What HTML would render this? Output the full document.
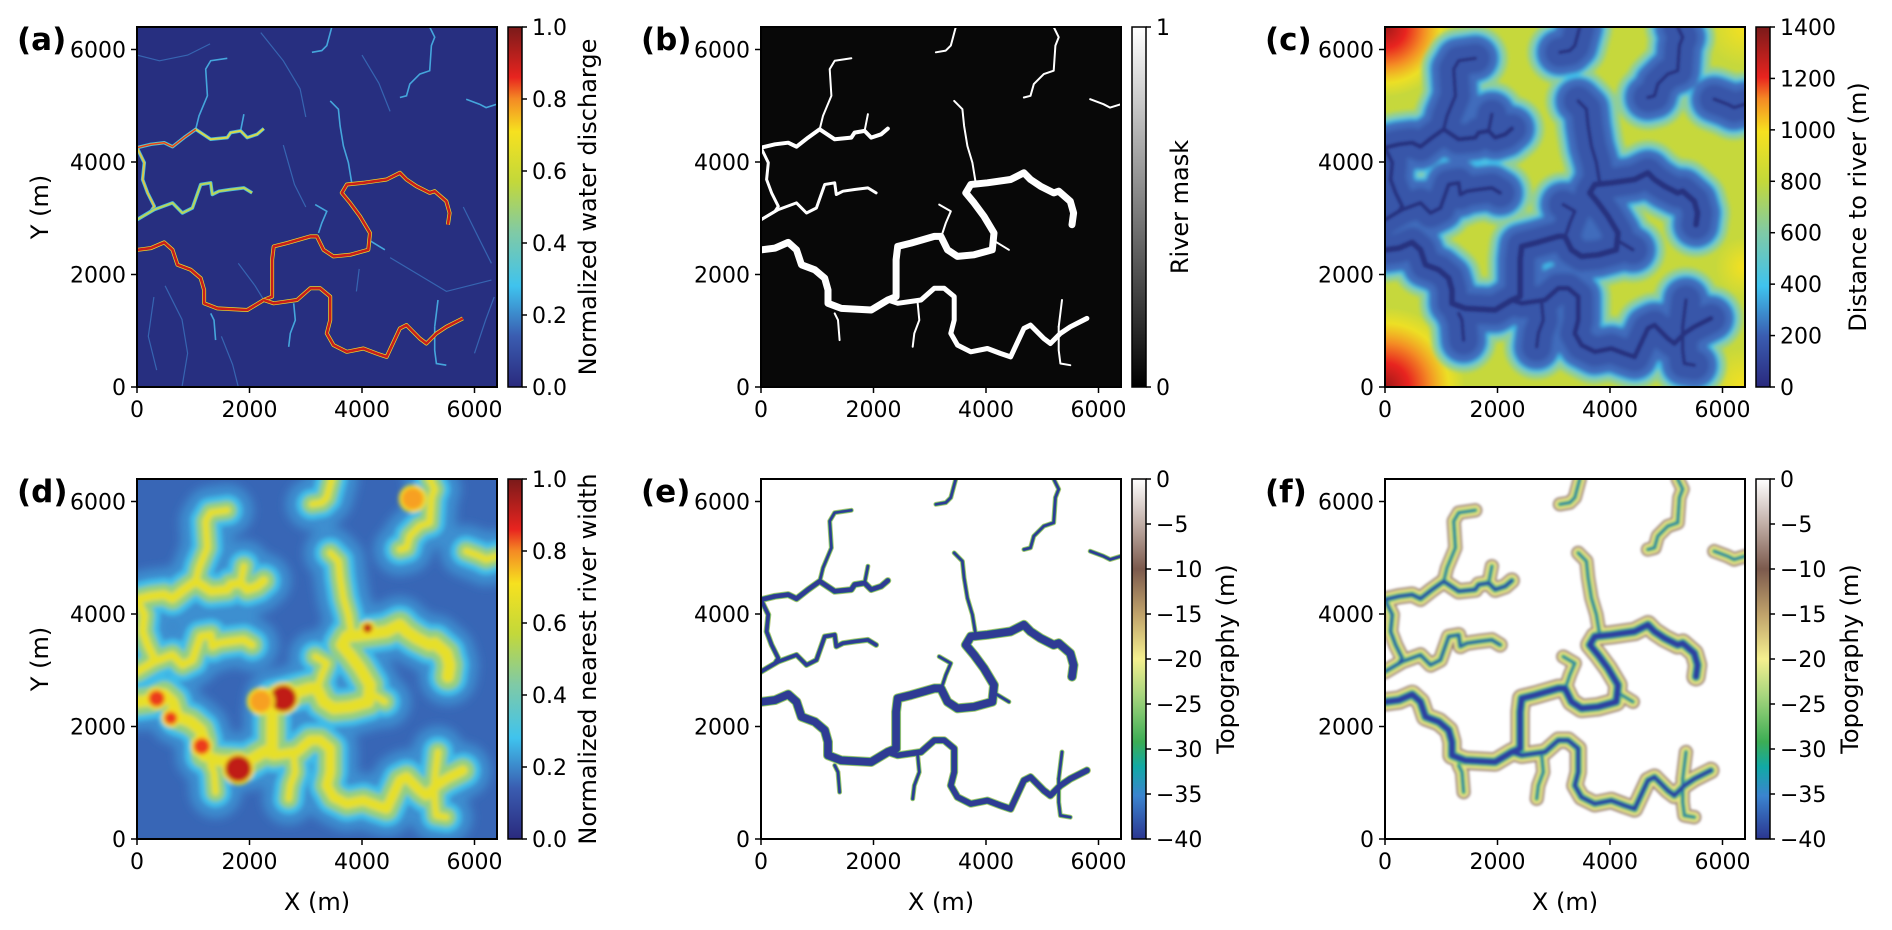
<!DOCTYPE html>
<html><head><meta charset="utf-8">
<style>
html,body{margin:0;padding:0;background:#fff;}
svg{display:block;}
text{font-family:"DejaVu Sans","Liberation Sans",sans-serif;fill:#000;}
</style></head>
<body>
<svg id="fig" xmlns="http://www.w3.org/2000/svg" width="1892" height="930" viewBox="0 0 1892 930">
<defs>
<linearGradient id="cmJet" x1="0" y1="1" x2="0" y2="0">
<stop offset="0" stop-color="#2a2a7e"/><stop offset="0.14" stop-color="#3a5cb0"/><stop offset="0.28" stop-color="#3fc3ee"/><stop offset="0.43" stop-color="#80caa5"/><stop offset="0.57" stop-color="#c3d83a"/><stop offset="0.71" stop-color="#f6e11f"/><stop offset="0.8" stop-color="#f48a24"/><stop offset="0.86" stop-color="#e8241f"/><stop offset="1" stop-color="#7a1a1a"/>
</linearGradient>
<linearGradient id="cmGray" x1="0" y1="1" x2="0" y2="0"><stop offset="0" stop-color="#000"/><stop offset="1" stop-color="#fff"/></linearGradient>
<linearGradient id="cmTopo" x1="0" y1="1" x2="0" y2="0">
<stop offset="0" stop-color="#2b3690"/><stop offset="0.12" stop-color="#3b84cf"/><stop offset="0.2" stop-color="#12a9a6"/><stop offset="0.27" stop-color="#3cad55"/><stop offset="0.4" stop-color="#a8d67e"/><stop offset="0.5" stop-color="#f4ef8f"/><stop offset="0.62" stop-color="#c2a56c"/><stop offset="0.75" stop-color="#7c5a4d"/><stop offset="0.88" stop-color="#c4b2ab"/><stop offset="1" stop-color="#ffffff"/>
</linearGradient>
<filter id="blur2" x="-20%" y="-20%" width="140%" height="140%"><feGaussianBlur stdDeviation="2"/></filter>
<filter id="blur1" x="-20%" y="-20%" width="140%" height="140%"><feGaussianBlur stdDeviation="1.2"/></filter>
<filter id="blur5" x="-20%" y="-20%" width="140%" height="140%"><feGaussianBlur stdDeviation="5"/></filter>
<radialGradient id="cornerRed"><stop offset="0" stop-color="#a01818"/><stop offset="0.3" stop-color="#e8241f"/><stop offset="0.55" stop-color="#f48a24"/><stop offset="0.8" stop-color="#f6e11f" stop-opacity="0.8"/><stop offset="1" stop-color="#f6e11f" stop-opacity="0"/></radialGradient>
<radialGradient id="cornerYel"><stop offset="0" stop-color="#f6e11f"/><stop offset="1" stop-color="#f6e11f" stop-opacity="0"/></radialGradient>
</defs>
</svg>
<script>
// ---------- data ----------
const axisMax = 6400;
const xyTicks = [0, 2000, 4000, 6000];
const ticksUnit = [0.0, 0.2, 0.4, 0.6, 0.8, 1.0];
const ticksMask = [0, 1];
const ticksDist = [0, 200, 400, 600, 800, 1000, 1200, 1400];
const ticksTopo = [0, -5, -10, -15, -20, -25, -30, -35, -40];

const riverMain = [[12,2440],[248,2469],[484,2570],[631,2440],[720,2172],[956,2083],[1133,1934],[1192,1726],[1192,1488],[1428,1398],[1959,1369],[2254,1547],[2401,1607],[2401,2261],[2431,2499],[2667,2559],[3080,2678],[3198,2678],[3316,2440],[3493,2321],[3788,2350],[4112,2440],[4142,2737],[3965,3035],[3788,3273],[3640,3451],[3729,3600],[4024,3630],[4437,3689],[4673,3808],[4791,3689],[4968,3570],[5204,3451],[5292,3481],[5499,3302],[5558,3094],[5528,2886]];
const riverSouth = [[2254,1547],[2431,1488],[2844,1547],[3080,1755],[3257,1755],[3434,1607],[3434,1190],[3375,952],[3493,744],[3729,625],[4024,684],[4260,595],[4437,536],[4673,1041],[4791,1101],[5027,863],[5145,774],[5322,952],[5499,1071],[5794,1220]];
const riverNorth = [[0,4254],[248,4314],[484,4344],[631,4272],[838,4433],[1044,4582],[1310,4403],[1605,4433],[1664,4522],[1841,4552],[1959,4433],[2136,4492],[2254,4593]];
const riverWest = [[0,4254],[130,3987],[100,3689],[189,3451],[307,3213],[248,3124],[0,2975]];
const riverMid = [[0,2975],[307,3154],[631,3273],[808,3094],[985,3183],[1133,3600],[1310,3630],[1339,3422],[1457,3481],[1664,3511],[1900,3540],[2047,3451]];
const tribs = [
 [[1044,4582],[1103,4820],[1251,5177],[1221,5652],[1310,5801],[1605,5843]],
 [[1841,4552],[1900,4850]],
 [[3463,6400],[3375,6069],[3286,5980],[3109,5950]],
 [[5204,6400],[5292,6218],[5233,6069],[5204,5623],[5027,5563],[4850,5385],[4791,5177],[4673,5147]],
 [[5853,5117],[6089,5028],[6207,4968],[6400,5028]],
 [[3434,5087],[3581,4939],[3611,4641],[3670,4284],[3758,3987],[3817,3630]],
 [[3168,3243],[3375,3124],[3286,2915],[3227,2737]],
 [[1310,1309],[1369,1190],[1398,833]],
 [[2785,1488],[2815,1190],[2726,952],[2697,714]],
 [[5292,1071],[5292,655],[5322,417],[5499,387]],
 [[5292,1071],[5351,1547]],
 [[4112,2618],[4407,2440]]
];
const minorStreams = [
 [[0,5900],[400,5800],[900,5900],[1300,6100]],
 [[2200,6300],[2600,5800],[2900,5300],[3000,4800]],
 [[2600,4300],[2800,3600],[3000,3200]],
 [[500,1800],[800,1200],[900,600],[800,0]],
 [[1800,2200],[2100,1800],[2254,1547]],
 [[4500,2300],[5000,2000],[5500,1700],[6300,1900]],
 [[5800,3200],[6100,2600],[6300,2200]],
 [[1500,900],[1700,400],[1800,0]],
 [[4000,5900],[4300,5400],[4500,4900]],
 [[300,1600],[200,900],[350,300]],
 [[3900,1700],[3950,2100]],
 [[6000,600],[6200,1200],[6350,1600]]
];
const widthHotX = [2600, 1800, 1150, 350, 4100, 4900, 600, 2200];
const widthHotY = [2500, 1250, 1650, 2500, 3750, 6050, 2150, 2450];
const widthHotR = [260, 260, 170, 170, 110, 220, 140, 220];
const widthHotV = [1.0, 1.0, 0.9, 0.9, 0.95, 0.7, 0.85, 0.8];

// ---------- layout ----------
const NS = "http://www.w3.org/2000/svg";
const svg = document.getElementById('fig');
const SIZE = 360;
const colsX = [137, 761, 1385];
const rowsY = [27, 479];
const TF = 22, LF = 24;

function mk(tag, attrs, parent) {
  const e = document.createElementNS(NS, tag);
  for (const k in attrs) e.setAttribute(k, attrs[k]);
  (parent || svg).appendChild(e);
  return e;
}
function scaleX(L, v) { return L + v / axisMax * SIZE; }
function scaleY(T, v) { return T + SIZE - v / axisMax * SIZE; }
function pathD(L, T, pts) {
  return pts.map((p, i) => (i ? 'L' : 'M') + scaleX(L, p[0]).toFixed(1) + ',' + scaleY(T, p[1]).toFixed(1)).join(' ');
}
const network = [
  {pts: riverMain, w: 7},
  {pts: riverSouth, w: 5},
  {pts: riverNorth, w: 4},
  {pts: riverWest, w: 3},
  {pts: riverMid, w: 3}
].concat(tribs.map(t => ({pts: t, w: 2})));

function strokeNet(g, L, T, extra, color, opts) {
  opts = opts || {};
  network.forEach(r => {
    const p = mk('path', {d: pathD(L, T, r.pts), fill: 'none', stroke: color, 'stroke-width': Math.max(0.5, (opts.scale !== undefined ? r.w * opts.scale : r.w) + extra), 'stroke-linecap': 'round', 'stroke-linejoin': 'round'}, g);
    
    
  });
}

function panel(idx, L, T, label, painter, opts) {
  const g = mk('g', {});
  
  
  const cp = mk('clipPath', {id: 'clip' + idx}, g);
  mk('rect', {x: L, y: T, width: SIZE, height: SIZE}, cp);
  const img = mk('g', {'clip-path': 'url(#clip' + idx + ')'}, g);
  
  
  painter(img, L, T);
  const frame = mk('rect', {x: L, y: T, width: SIZE, height: SIZE, fill: 'none', stroke: '#000', 'stroke-width': 2}, g);
  
  
  xyTicks.forEach(v => {
    const x = scaleX(L, v), y = scaleY(T, v);
    mk('line', {x1: x, y1: T + SIZE, x2: x, y2: T + SIZE + 6, stroke: '#000', 'stroke-width': 1.5}, g);
    const tx = mk('text', {x: x, y: T + SIZE + 30, 'font-size': TF, 'text-anchor': 'middle'}, g);
    tx.textContent = v;
    
    
    mk('line', {x1: L, y1: y, x2: L - 6, y2: y, stroke: '#000', 'stroke-width': 1.5}, g);
    const ty = mk('text', {x: L - 11, y: y + 8, 'font-size': TF, 'text-anchor': 'end'}, g);
    ty.textContent = v;
    
    
  });
  const pl = mk('text', {x: L - 120, y: T + 23, 'font-size': 31, 'font-weight': 'bold', 'font-family': 'Liberation Sans, sans-serif'}, g);
  pl.textContent = '(' + label + ')';
  
  
  if (opts.ylabel) {
    const yl = mk('text', {x: 0, y: 0, 'font-size': LF, 'text-anchor': 'middle', transform: 'translate(48,' + (T + SIZE / 2) + ') rotate(-90)'}, g);
    yl.textContent = 'Y (m)';
    
    
  }
  if (opts.xlabel) {
    const xl = mk('text', {x: L + SIZE / 2, y: T + SIZE + 71, 'font-size': LF, 'text-anchor': 'middle'}, g);
    xl.textContent = 'X (m)';
    
    
  }
  const cx = L + SIZE + 11, cw = 14;
  const cb = mk('rect', {x: cx, y: T, width: cw, height: SIZE, fill: 'url(#' + opts.cmap + ')', stroke: '#000', 'stroke-width': 1.5}, g);
  
  
  const ticks = opts.cticks, lo = opts.cmin, hi = opts.cmax;
  ticks.forEach(v => {
    const y = T + SIZE - (v - lo) / (hi - lo) * SIZE;
    mk('line', {x1: cx + cw, y1: y, x2: cx + cw + 5, y2: y, stroke: '#000', 'stroke-width': 1.5}, g);
    const t = mk('text', {x: cx + cw + 10, y: y + 8, 'font-size': TF}, g);
    t.textContent = opts.fmt(v);
    
    
  });
  const cl = mk('text', {x: 0, y: 0, 'font-size': LF, 'text-anchor': 'middle', transform: 'translate(' + (cx + cw + opts.clOff) + ',' + (T + SIZE / 2) + ') rotate(-90)'}, g);
  cl.textContent = opts.clabel;
  
  
}

const f1 = v => v.toFixed(1);
const fi = v => String(v);
const fm = v => (v < 0 ? '\u2212' + Math.abs(v) : String(v));

// (a)
panel(0, colsX[0], rowsY[0], 'a', (g, L, T) => {
  mk('rect', {x: L, y: T, width: SIZE, height: SIZE, fill: '#272f80'}, g);
  minorStreams.forEach(s => {
    const p = mk('path', {d: pathD(L, T, s), fill: 'none', stroke: '#3d7cc6', 'stroke-width': 1.2, opacity: 0.7}, g);
    
    
  });
  tribs.forEach(t => {
    const p = mk('path', {d: pathD(L, T, t), fill: 'none', stroke: '#45a6dc', 'stroke-width': 1.6}, g);
    
    
  });
  [[riverNorth, '#d8d84a'], [riverWest, '#d8c84a'], [riverMid, '#b9d65a']].forEach(r => {
    mk('path', {d: pathD(L, T, r[0]), fill: 'none', stroke: '#45b8e0', 'stroke-width': 3.5, 'stroke-linejoin': 'round'}, g);
    mk('path', {d: pathD(L, T, r[0]), fill: 'none', stroke: r[1], 'stroke-width': 2, 'stroke-linejoin': 'round'}, g);
  });
  mk('path', {d: pathD(L, T, riverNorth.slice(0, 6)), fill: 'none', stroke: '#e03a22', 'stroke-width': 1.4}, g);
  [riverMain, riverSouth].forEach(r => {
    mk('path', {d: pathD(L, T, r), fill: 'none', stroke: '#e8d830', 'stroke-width': 4, 'stroke-linejoin': 'round'}, g);
    mk('path', {d: pathD(L, T, r), fill: 'none', stroke: '#c81e1a', 'stroke-width': 2.6, 'stroke-linejoin': 'round'}, g);
  });
}, {ylabel: true, cmap: 'cmJet', cticks: ticksUnit, cmin: 0, cmax: 1, fmt: f1, clabel: 'Normalized water discharge', clOff: 74});

// (b)
panel(1, colsX[1], rowsY[0], 'b', (g, L, T) => {
  mk('rect', {x: L, y: T, width: SIZE, height: SIZE, fill: '#080808'}, g);
  strokeNet(g, L, T, 0, '#ffffff');
}, {cmap: 'cmGray', cticks: ticksMask, cmin: 0, cmax: 1, fmt: fi, clabel: 'River mask', clOff: 42});

// (c)
panel(2, colsX[2], rowsY[0], 'c', (g, L, T) => {
  mk('rect', {x: L, y: T, width: SIZE, height: SIZE, fill: '#c6d83c'}, g);
  mk('circle', {cx: L, cy: T, r: 70, fill: 'url(#cornerRed)'}, g);
  mk('circle', {cx: L, cy: T + SIZE, r: 80, fill: 'url(#cornerRed)'}, g);
  mk('circle', {cx: L + SIZE, cy: T, r: 40, fill: 'url(#cornerYel)'}, g);
  mk('circle', {cx: L + SIZE, cy: T + SIZE, r: 40, fill: 'url(#cornerYel)'}, g);
  mk('circle', {cx: L + SIZE, cy: T + 240, r: 30, fill: 'url(#cornerYel)'}, g);
  const b = mk('g', {filter: 'url(#blur2)'}, g);
  strokeNet(b, L, T, 64, '#8fcf9a', {scale: 0});
  strokeNet(b, L, T, 52, '#3fc3ee', {scale: 0});
  strokeNet(b, L, T, 46, '#3f6cbc', {scale: 0});
  strokeNet(b, L, T, 30, '#3856a9', {scale: 0});
  const c = mk('g', {filter: 'url(#blur1)'}, g);
  strokeNet(c, L, T, 2, '#28317f', {scale: 0.5});
}, {cmap: 'cmJet', cticks: ticksDist, cmin: 0, cmax: 1400, fmt: fi, clabel: 'Distance to river (m)', clOff: 96});

// (d)
panel(3, colsX[0], rowsY[1], 'd', (g, L, T) => {
  mk('rect', {x: L, y: T, width: SIZE, height: SIZE, fill: '#3866b6'}, g);
  const b = mk('g', {filter: 'url(#blur5)'}, g);
  strokeNet(b, L, T, 50, '#3e8fd0', {scale: 1});
  const c = mk('g', {filter: 'url(#blur2)'}, g);
  strokeNet(c, L, T, 28, '#3fbde8', {scale: 1.5});
  strokeNet(c, L, T, 16, '#94cf80', {scale: 1.5});
  strokeNet(c, L, T, 5, '#e6df2a', {scale: 1});
  widthHotX.forEach((x, i) => {
    const col = widthHotV[i] > 0.9 ? '#c01a18' : (widthHotV[i] > 0.8 ? '#ec3a1e' : '#f7a020');
    const ci = mk('circle', {cx: scaleX(L, x), cy: scaleY(T, widthHotY[i]), r: widthHotR[i] / axisMax * SIZE, fill: col, stroke: '#f4e020', 'stroke-width': 3}, c);
    
    
  });
}, {ylabel: true, xlabel: true, cmap: 'cmJet', cticks: ticksUnit, cmin: 0, cmax: 1, fmt: f1, clabel: 'Normalized nearest river width', clOff: 74});

// (e)
panel(4, colsX[1], rowsY[1], 'e', (g, L, T) => {
  mk('rect', {x: L, y: T, width: SIZE, height: SIZE, fill: '#ffffff'}, g);
  strokeNet(g, L, T, 3, '#b6c77a');
  strokeNet(g, L, T, 1.5, '#3aa86a');
  strokeNet(g, L, T, 0.5, '#2f3b94');
}, {xlabel: true, cmap: 'cmTopo', cticks: ticksTopo, cmin: -40, cmax: 0, fmt: fm, clabel: 'Topography (m)', clOff: 88});

// (f)
panel(5, colsX[2], rowsY[1], 'f', (g, L, T) => {
  mk('rect', {x: L, y: T, width: SIZE, height: SIZE, fill: '#ffffff'}, g);
  const b = mk('g', {filter: 'url(#blur1)'}, g);
  strokeNet(b, L, T, 12, '#8a6c60', {scale: 1});
  strokeNet(b, L, T, 9, '#d8caa0', {scale: 1});
  strokeNet(b, L, T, 7, '#ece77e', {scale: 1});
  strokeNet(b, L, T, 3, '#5cbd6c', {scale: 1});
  strokeNet(b, L, T, 0, '#1ea6c0', {scale: 1});
  strokeNet(b, L, T, -1, '#2f40a0', {scale: 1});
}, {xlabel: true, cmap: 'cmTopo', cticks: ticksTopo, cmin: -40, cmax: 0, fmt: fm, clabel: 'Topography (m)', clOff: 88});
</script>
</body></html>
